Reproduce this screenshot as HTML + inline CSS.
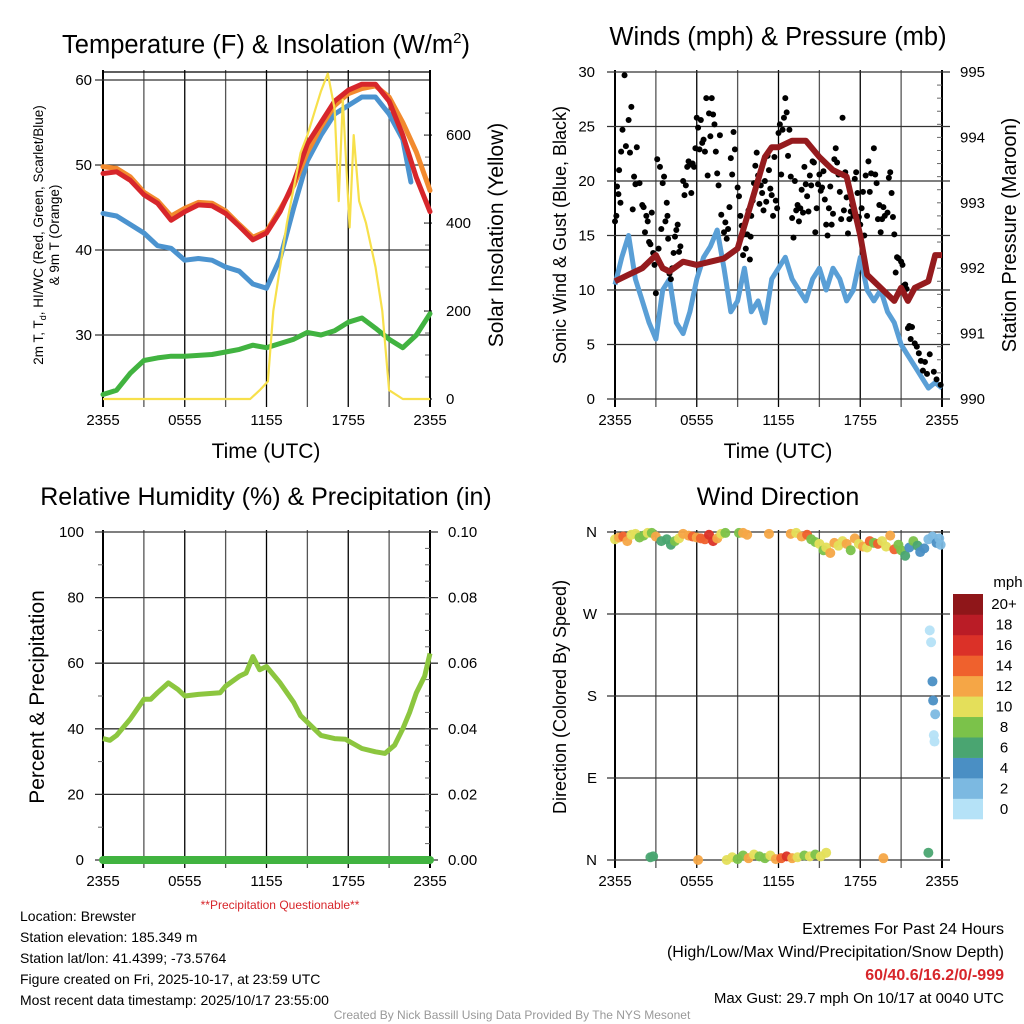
<!DOCTYPE html>
<html><head><meta charset="utf-8">
<style>
html,body{margin:0;padding:0;background:#fff;}
svg{display:block;font-family:"Liberation Sans",Arial,sans-serif;}
</style></head>
<body>
<svg id="c" width="1024" height="1024" viewBox="0 0 1024 1024" xmlns="http://www.w3.org/2000/svg">
<rect width="1024" height="1024" fill="#fff"/>
<!-- titles -->
<text x="266" y="53" font-size="25.5" text-anchor="middle">Temperature (F) &amp; Insolation (W/m<tspan dy="-10" font-size="15">2</tspan><tspan dy="10">)</tspan></text>
<text x="778" y="45" font-size="25.5" text-anchor="middle">Winds (mph) &amp; Pressure (mb)</text>
<text x="266" y="505" font-size="25" text-anchor="middle">Relative Humidity (%) &amp; Precipitation (in)</text>
<text x="778" y="505" font-size="25" text-anchor="middle">Wind Direction</text>
<!-- axis titles -->
<text transform="translate(43,235) rotate(-90)" font-size="13.5" text-anchor="middle">2m T, T<tspan font-size="9" dy="3">d</tspan><tspan dy="-3">, HI/WC (Red, Green, Scarlet/Blue)</tspan></text>
<text transform="translate(59,235) rotate(-90)" font-size="13.5" text-anchor="middle">&amp; 9m T (Orange)</text>
<text transform="translate(503,235) rotate(-90)" font-size="21" text-anchor="middle">Solar Insolation (Yellow)</text>
<text transform="translate(566,235) rotate(-90)" font-size="18" text-anchor="middle">Sonic Wind &amp; Gust (Blue, Black)</text>
<text transform="translate(1016,235) rotate(-90)" font-size="20" text-anchor="middle">Station Pressure (Maroon)</text>
<text transform="translate(44,697) rotate(-90)" font-size="21" text-anchor="middle">Percent &amp; Precipitation</text>
<text transform="translate(566,697) rotate(-90)" font-size="18" text-anchor="middle">Direction (Colored By Speed)</text>
<text x="266" y="458" font-size="21" text-anchor="middle">Time (UTC)</text>
<text x="778" y="458" font-size="21" text-anchor="middle">Time (UTC)</text>
<text x="280" y="909" font-size="12" fill="#d7262b" text-anchor="middle">**Precipitation Questionable**</text>
<!-- info text -->
<g font-size="14">
<text x="20" y="921">Location: Brewster</text>
<text x="20" y="942">Station elevation: 185.349 m</text>
<text x="20" y="963">Station lat/lon: 41.4399; -73.5764</text>
<text x="20" y="984">Figure created on Fri, 2025-10-17, at 23:59 UTC</text>
<text x="20" y="1005">Most recent data timestamp: 2025/10/17 23:55:00</text>
</g>
<g text-anchor="end">
<text x="1004" y="934" font-size="16">Extremes For Past 24 Hours</text>
<text x="1004" y="957" font-size="16">(High/Low/Max Wind/Precipitation/Snow Depth)</text>
<text x="1004" y="980" font-size="16" font-weight="bold" fill="#d7262b">60/40.6/16.2/0/-999</text>
<text x="1004" y="1003" font-size="15">Max Gust: 29.7 mph On 10/17 at 0040 UTC</text>
</g>
<text x="512" y="1019" font-size="12" fill="#999" text-anchor="middle">Created By Nick Bassill Using Data Provided By The NYS Mesonet</text>
<g id="layer"></g>
</svg>
<script>
// ---------- DATA ----------
const xTickLabels = ["2355","0555","1155","1755","2355"];
// Temperature panel (hours since 2355)
const tempHours = [0,1,2,3,4,5,6,7,8,9,10,11,12,13,14,15,16,17,18,19,20,21,22,23,24];
const tempRed   = [49,49.2,48.2,46.5,45.5,43.5,44.5,45.3,45.2,44.3,42.8,41.2,42,44.5,48,52.5,55,57.5,58.8,59.5,59.5,57.5,53.5,48.5,44.5];
const tempOrange= [49.8,49.6,48.6,46.8,45.8,44,44.9,45.6,45.5,44.6,43,41.5,42.2,44.8,47.6,51.5,54.5,57,58.4,59,59.3,58,55,51.5,47];
const blueHours = [0,1,2,3,4,5,6,7,8,9,10,11,12,13,14,15,16,17,18,19,20,21,22,22.6];
const tempBlue  = [44.3,44,43,42,40.5,40.2,38.8,39,38.8,38,37.5,36,35.5,39,45,50.5,53.5,56,57,58,58,56,53,48];
const dewpoint  = [23,23.5,25.5,27,27.3,27.5,27.5,27.6,27.7,28,28.3,28.8,28.5,29,29.5,30.3,30,30.5,31.5,32,30.8,29.5,28.5,30,32.5];
const solarHours = [0,10.8,11.5,12.1,12.5,13.5,14.5,15,15.5,16,16.5,17,17.3,17.6,18.1,18.4,18.8,19.3,20,20.5,21,22,24];
const solarVals  = [0,0,20,40,200,400,560,600,650,700,740,660,450,680,390,600,450,400,300,200,20,0,0];
const tempTicks = [30,40,50,60];
const solarTicks = [0,200,400,600];
// Wind panel
const windHours = [0,0.5,1,1.5,2,2.5,3,3.5,4,4.5,5,5.5,6,6.5,7,7.5,8,8.5,9,9.5,10,10.5,11,11.5,12,12.5,13,13.5,14,14.5,15,15.5,16,16.5,17,17.5,18,18.5,19,19.5,20,20.5,21,21.5,22,22.5,23,23.5,24];
const windSpeed = [10.5,13,15,11,9,7,5.5,10,11,7,6,8,11,13,14,15.5,12,8,9,12,8,9,7,11,12,13,11,10,9,11,12,10,12,11,9,10,13,10,9,10,8,7,5,4,3,2,1,1.5,1];
const presHours = [0,1,2,3,3.5,4,5,6,7,8,9,10,11,11.5,12,13,14,15,16,17,18,18.5,19,20,20.5,21,21.5,22,23,23.5,24];
const pressure  = [991.8,991.9,992,992.2,992,991.95,992.1,992.05,992.1,992.15,992.3,993,993.7,993.85,993.85,993.95,993.95,993.7,993.5,993.4,992.5,991.9,991.8,991.6,991.5,991.7,991.5,991.7,991.8,992.2,992.2];
const gustHours = [0,0.1,0.15,0.25,0.3,0.4,0.45,0.55,0.7,0.8,1,1.1,1.2,1.3,1.4,1.5,1.6,1.8,2,2.1,2.2,2.3,2.4,2.5,2.6,2.7,2.8,2.9,3,3.1,3.2,3.3,3.4,3.5,3.6,3.7,3.8,3.85,3.9,4,4.1,4.2,4.3,4.4,4.5,4.6,4.7,4.8,5,5.1,5.2,5.3,5.4,5.5,5.6,5.7,5.8,5.9,6,6.1,6.2,6.3,6.4,6.5,6.6,6.7,6.8,6.9,7,7.1,7.2,7.3,7.4,7.5,7.6,7.7,7.8,8,8.1,8.2,8.3,8.4,8.5,8.6,8.7,8.8,9,9.1,9.2,9.3,9.4,9.5,9.6,9.7,9.8,9.9,9.95,10,10.1,10.2,10.3,10.4,10.5,10.6,10.7,10.8,10.9,11,11.1,11.2,11.3,11.4,11.5,11.6,11.7,11.8,11.9,12,12.1,12.2,12.3,12.4,12.5,12.6,12.7,12.8,12.9,13,13.1,13.2,13.3,13.4,13.5,13.6,13.7,13.8,13.9,14,14.1,14.2,14.3,14.4,14.5,14.6,14.7,14.8,14.9,15,15.1,15.2,15.3,15.4,15.5,15.6,15.7,15.8,15.9,16,16.1,16.2,16.3,16.4,16.5,16.6,16.7,16.8,16.9,17,17.1,17.2,17.3,17.4,17.5,17.6,17.7,17.8,17.9,18,18.1,18.2,18.3,18.4,18.5,18.6,18.7,18.8,19,19.1,19.2,19.3,19.4,19.5,19.6,19.7,19.8,20,20.1,20.2,20.3,20.4,20.5,20.6,20.7,20.8,21,21.1,21.2,21.3,21.4,21.5,21.6,21.7,21.8,22,22.15,22.3,22.45,22.6,22.75,22.9,23.1,23.4,23.6,23.9];
const gustVals  = [16.3,16.8,19.5,18.8,21,18,22.7,24.7,29.7,23.2,25.6,22.6,26.8,17.4,20.4,19.7,23.1,19.8,17.8,17.6,15.3,16.8,16.3,14.4,14.2,17.1,13.4,12.3,9.7,22,13.8,21.3,15.6,19.8,20.4,16.3,18,16.8,14.7,11.5,11,12,13.4,14.9,15.5,16,13.5,14,20,18.7,19.6,21.3,21.8,21.5,18.9,21.6,21.3,23,25.8,24.9,22.9,25.6,23.5,23.8,22.7,27.6,20.5,26.2,24.1,27.6,26.1,25.2,22.7,20.7,19.6,24.2,16.9,15.3,16.2,14.7,15.6,17.6,22.1,20.6,24.5,22.9,19.4,18.6,16.8,15.9,13.2,15.1,13.8,15.1,17.3,12.8,14.9,16.8,18.2,19.8,21.4,22.6,20.5,17.9,19.6,18.9,17.3,20,18.1,22.3,21,19.3,18.7,16.8,22.2,18.2,17.5,24.4,25.2,20.6,24.7,25.8,27.6,26.3,22.3,24.7,20.4,16.6,14.8,20,17.3,17.8,16.3,17.5,19.2,17.1,21.3,19.7,18.6,17.2,20.5,19.6,21.8,21.7,15.3,17.5,19.7,20.6,19.1,19.4,20.9,18.3,16,15,17.5,19.5,16,17,22,23,21.7,20.6,19,16.5,25.8,17.3,20.8,18.5,15.2,16.5,17.2,17.8,16.8,20.2,20.8,18.9,16.7,16,17.5,19,15,20.5,16.8,21.8,19,20.7,23,20.6,19.8,16.5,17.8,15.3,16.5,17.6,16.8,17.1,20.3,20.8,18.9,16.7,15.1,11.6,13,12.9,12.6,12.3,10.4,10.5,10.1,6.5,6.7,5.5,6.6,5.1,4.8,4.2,3.5,2.6,3.4,2.3,4.1,2.5,1.8,1.3];
const windTicks = [0,5,10,15,20,25,30];
const presTicks = [990,991,992,993,994,995];
// Humidity panel
const rhHours = [0,0.5,1,2,3,3.5,4,4.8,5.5,6,7,8.6,9,10,10.5,11,11.5,12,13,14,14.5,16,17,17.8,19,20,20.7,21.4,22,22.5,23,23.6,24];
const rhVals  = [37,36.5,38,43,49,49,51,54,52,50,50.5,51,53,56,57,62,58,59,54,48,44,38,37,36.8,34,33,32.5,35,40,45,51,56,63];
const precipHours = [0,24];
const precipVals  = [0,0];
const rhTicks = [0,20,40,60,80,100];
const precipTicks = ["0.00","0.02","0.04","0.06","0.08","0.10"];
// Wind direction panel
const dirHours = [0,0.3,0.6,0.9,1.2,1.5,1.8,2.1,2.4,2.7,3.0,3.4,3.8,4.1,4.4,4.7,5.0,5.4,5.7,6.0,6.3,6.6,6.9,7.2,7.5,7.8,8.1,9.1,9.4,9.7,11.3,12.9,13.3,13.7,14.1,14.4,14.7,15.0,15.3,15.5,15.8,16.1,16.4,16.7,17.0,17.3,17.6,17.9,18.2,18.5,18.7,19.0,19.3,19.6,19.9,20.2,20.5,20.8,21.0,21.3,21.6,21.9,22.2,22.4,22.7,23.0,23.3,23.6,23.8,23.9,23.1,23.2,23.3,23.35,23.5,23.4,23.45,2.6,2.8,6.1,8.2,8.6,9.0,9.4,9.8,10.2,10.6,11.0,11.4,11.8,12.2,12.6,13.0,13.4,13.9,14.3,14.7,15.1,15.5,19.7,23.0];
const dirDeg   = [352,354,355,350,357,358,354,356,359,359,355,350,352,346,350,353,358,356,355,354,353,352,357,350,353,358,359,359,359,357,358,358,359,355,357,352,349,347,340,343,337,348,345,350,347,340,353,347,344,343,350,348,347,350,344,356,341,346,340,334,343,350,345,338,342,352,355,348,353,346,252,239,196,175,160,137,130,3,4,0,0,3,1,5,2,6,4,2,5,1,2,4,2,3,5,4,6,4,8,2,8];
const dirSpeed = [10,12,15,13,11,10,8,8,10,9,12,7,6,7,8,11,12,13,14,13,15,14,16,17,12,10,8,9,13,12,13,12,11,13,14,8,9,10,8,11,13,12,11,10,12,9,12,11,13,10,15,8,14,11,10,12,14,9,8,7,4,8,6,5,4,3,2,5,3,2,1,1,4,5,2,1,1,7,6,13,10,11,9,8,12,10,9,8,11,13,14,16,13,11,8,10,9,11,10,12,7,1];
const dirTickLabels = ["N","E","S","W","N"];
const cbLabels = ["0","2","4","6","8","10","12","14","16","18","20+"];
const cbColors = ["#b5e2f7","#7cb9e1","#4a8fc4","#4aa571","#7bc24a","#e4df5a","#f5a646","#ef612d","#db3128","#ba1c26","#8f1619"];

// ---------- DRAWING ----------
const NS="http://www.w3.org/2000/svg";
const layer=document.getElementById('layer');
function mk(tag,attrs,parent){const e=document.createElementNS(NS,tag);for(const k in attrs)e.setAttribute(k,attrs[k]);(parent||layer).appendChild(e);return e;}
function lin(d0,d1,r0,r1){return v=>r0+(v-d0)/(d1-d0)*(r1-r0);}
function pathD(xs,ys,fx,fy){return xs.map((h,i)=>(i?'L':'M')+fx(h).toFixed(1)+','+fy(ys[i]).toFixed(1)).join('');}

function frame(x0,x1,y0,y1,opts){
  const g=mk('g',{});
  
  
  const fx=lin(0,24,x0,x1);
  for(let h=0;h<=24;h+=3){
    const x=fx(h);
    const l=mk('line',{x1:x,x2:x,y1:y0-2,y2:y1+8,stroke:(h%6===0)?'#000':'#555','stroke-width':(h===0||h===24)?2:1.3},g);
    
    
  }
  if(opts.xlabels){
    xTickLabels.forEach((t,i)=>{
      const tx=mk('text',{x:fx(i*6),y:y1+26,'font-size':15,'text-anchor':'middle'},g);
      tx.textContent=t;
      
      
    });
  }
  return {g,fx};
}
function hgrid(g,y,x0,x1,label,lx,right){
  const l=mk('line',{x1:x0-8,x2:x1+(right?8:0),y1:y,y2:y,stroke:'#333','stroke-width':1.3},g);
  
  
  if(label!==null){
    const t=mk('text',{x:lx,y:y+5,'font-size':15,'text-anchor':'end'},g);
    t.textContent=label;
    
    
  }
}
function rlabel(g,y,x,label){
  const t=mk('text',{x:x,y:y+5,'font-size':15,'text-anchor':'start'},g);
  t.textContent=label;
  
  
  mk('line',{x1:x-14,x2:x-22,y1:y,y2:y,stroke:'#333','stroke-width':1.3},g);
}
function minorTicks(g,x,y0,y1,n){
  for(let i=1;i<n;i++){const y=y0+(y1-y0)*i/n;mk('line',{x1:x-5,x2:x,y1:y,y2:y,stroke:'#666','stroke-width':1},g);}
}

// Panel 1: temperature
(function(){
  const x0=103,x1=430,y0=72,y1=399;
  const {g,fx}=frame(x0,x1,y0,y1,{name:'temperature',xlabels:true});
  const fy=lin(22.47,60,y1,80);
  const fs=lin(0,740,y1,73.5);
  mk('line',{x1:x0,x2:x1,y1:y0,y2:y0,stroke:'#000','stroke-width':1.3},g);
  tempTicks.forEach(v=>hgrid(g,fy(v),x0,x1,String(v),92,false));
  solarTicks.forEach(v=>rlabel(g,fs(v),446,String(v)));
  minorTicks(g,x1,y1,fs(700),14);
  mk('line',{x1:x1,x2:x1,y1:y0,y2:y1,stroke:'#000','stroke-width':2},g);
  const series=[[tempHours,dewpoint,'#41b340','dewpoint-line'],[blueHours,tempBlue,'#4b93cf','heat-index-wind-chill-line'],[tempHours,tempOrange,'#f28a2e','9m-temperature-line'],[tempHours,tempRed,'#d7262b','2m-temperature-line']];
  series.forEach(s=>{
    const p=mk('path',{d:pathD(s[0],s[1],fx,fy),fill:'none',stroke:s[2],'stroke-width':5,'stroke-linejoin':'round','stroke-linecap':'round'});
    
    
  });
  const y=mk('path',{d:pathD(solarHours,solarVals,fx,fs),fill:'none',stroke:'#f7e04b','stroke-width':2.2,'stroke-linejoin':'round'});
  
  
})();

// Panel 2: winds
(function(){
  const x0=615,x1=942,y0=72,y1=399;
  const {g,fx}=frame(x0,x1,y0,y1,{name:'winds',xlabels:true});
  const fy=lin(0,30,y1,y0);
  const fp=lin(990,995,y1,y0);
  windTicks.forEach(v=>hgrid(g,fy(v),x0,x1,String(v),595,true));
  presTicks.forEach(v=>{const t=mk('text',{x:960,y:fp(v)+5,'font-size':15},g);t.textContent=String(v);
    
    });
  minorTicks(g,x1,y1,y0,25);
  const w=mk('path',{d:pathD(windHours,windSpeed,fx,fy),fill:'none',stroke:'#5a9fd6','stroke-width':5,'stroke-linejoin':'round'});
  
  
  gustHours.forEach((h,i)=>{
    const c=mk('circle',{cx:fx(h),cy:fy(gustVals[i]),r:3,fill:'#000'});
    
    
  });
  const p=mk('path',{d:pathD(presHours,pressure,fx,fp),fill:'none',stroke:'#951b1e','stroke-width':6,'stroke-linejoin':'round'});
  
  
})();

// Panel 3: humidity
(function(){
  const x0=103,x1=430,y0=532,y1=860;
  const {g,fx}=frame(x0,x1,y0,y1,{name:'humidity',xlabels:true});
  const fy=lin(0,100,y1,y0);
  const fpr=lin(0,0.1,y1,y0);
  rhTicks.forEach(v=>hgrid(g,fy(v),x0,x1,String(v),84,true));
  precipTicks.forEach((t,i)=>{const tx=mk('text',{x:448,y:fy(i*20)+5,'font-size':15},g);tx.textContent=t;
    
    });
  minorTicks(g,x1,y1,y0,20);
  for(let i=1;i<10;i+=2){mk('line',{x1:x0-5,x2:x0,y1:fy(i*10),y2:fy(i*10),stroke:'#666'},g);}
  const r=mk('path',{d:pathD(rhHours,rhVals,fx,fy),fill:'none',stroke:'#8cc63f','stroke-width':5,'stroke-linejoin':'round'});
  
  
  const pr=mk('path',{d:pathD(precipHours,precipVals,fx,fpr),fill:'none',stroke:'#41b340','stroke-width':8,'stroke-linecap':'round'});
  
  
  mk('line',{x1:x0,x2:x1,y1:y1,y2:y1,stroke:'#000','stroke-width':1.3},g);
})();

// Panel 4: wind direction
(function(){
  const x0=615,x1=942,y0=532,y1=860;
  const {g,fx}=frame(x0,x1,y0,y1,{name:'wind-direction',xlabels:true});
  const fy=lin(0,360,y1,y0);
  dirTickLabels.forEach((t,i)=>hgrid(g,fy(i*90),x0,x1,t,597,true));
  function col(s){let i=Math.min(10,Math.floor(s/2));return cbColors[i];}
  dirHours.forEach((h,i)=>{
    const c=mk('circle',{cx:fx(h),cy:fy(dirDeg[i]),r:5,fill:col(dirSpeed[i]),'fill-opacity':0.95});
    
    
  });
  const cb=mk('g',{});
  
  
  const cy0=594,cy1=819,h=(cy1-cy0)/11;
  cbColors.forEach((c,i)=>{
    mk('rect',{x:953,y:cy1-(i+1)*h,width:30,height:h+0.3,fill:c},cb);
    const t=mk('text',{x:1004,y:cy1-(i+0.5)*h+5,'font-size':15,'text-anchor':'middle'},cb);
    t.textContent=cbLabels[i];
    
    
  });
  const u=mk('text',{x:1008,y:587,'font-size':15,'text-anchor':'middle'},cb);
  u.textContent='mph';
  
  
})();
</script>
</body></html>
